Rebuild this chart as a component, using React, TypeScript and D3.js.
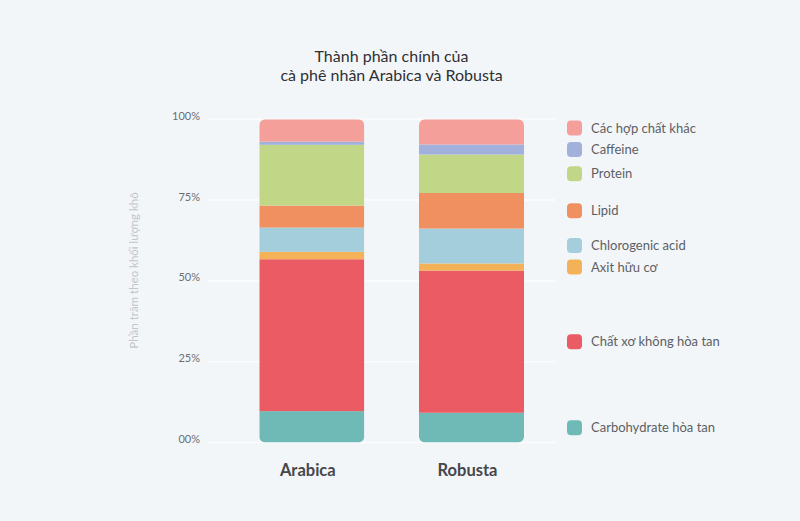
import React from "react";
import * as d3 from "d3";

const categories = ["Arabica", "Robusta"];
const components = [
  "Carbohydrate hòa tan",
  "Chất xơ không hòa tan",
  "Axit hữu cơ",
  "Chlorogenic acid",
  "Lipid",
  "Protein",
  "Caffeine",
  "Các hợp chất khác",
];
const arabicaValues = [9.7, 47.0, 2.3, 7.5, 6.8, 18.8, 1.0, 6.9];
const robustaValues = [9.2, 44.0, 2.2, 10.8, 11.0, 11.9, 3.1, 7.8];
const colors = ["#6fbab6", "#eb5b64", "#f3b257", "#a4cedb", "#f08f5f", "#c2d687", "#a1b1dc", "#f59f9b"];
const yTicks = [0, 25, 50, 75, 100];
const yTickLabels = ["00%", "25%", "50%", "75%", "100%"];
const titleLines = ["Thành phần chính của", "cà phê nhân Arabica và Robusta"];
const yAxisTitle = "Phần trăm theo khối lượng khô";

const W = 800;
const H = 521;
const FONT = "Lato, 'Open Sans', sans-serif";

export default function App() {
  const seriesValues = [arabicaValues, robustaValues];
  const rows = categories.map((c, i) => {
    const r: any = { cat: c };
    components.forEach((k, j) => (r[k] = seriesValues[i][j]));
    return r;
  });
  const stack = d3.stack<any>().keys(components);
  const stacked = stack(rows);

  const y = d3.scaleLinear().domain([0, 100]).range([442.5, 119.3]);
  const xs = d3.scaleOrdinal<string, number>().domain(categories).range([259.3, 419]);
  const bw = 105;

  // legend positions: Robusta segment midpoints, pushed apart
  const rob = stacked.map((s) => s[1]);
  const mids = rob.map((d) => y((d[0] + d[1]) / 2));
  const order = components.map((_, i) => components.length - 1 - i);
  const pos = order.map((i) => mids[i]);
  const gap = 21.5;
  for (let i = pos.length - 2; i >= 0; i--) {
    if (pos[i] > pos[i + 1] - gap) pos[i] = pos[i + 1] - gap;
  }

  const clipR = 6;

  return (
    <svg width={W} height={H} style={{ position: "absolute", left: 0, top: 0, background: "#f3f6f9" }}>
      <rect x={0} y={0} width={W} height={H} fill="#f3f6f9" />
      <defs>
        {categories.map((c, i) => (
          <clipPath id={`clip${i}`} key={c}>
            <rect x={xs(c)} y={y(100)} width={bw} height={y(0) - y(100)} rx={clipR} ry={clipR} />
          </clipPath>
        ))}
      </defs>
      {/* title */}
      <text x={391.5} y={61.5} textAnchor="middle" fontFamily={FONT} fontSize={16} fill="#2f3033">
        {titleLines[0]}
      </text>
      <text x={391.5} y={80.5} textAnchor="middle" fontFamily={FONT} fontSize={16} fill="#2f3033">
        {titleLines[1]}
      </text>
      {/* grid */}
      {yTicks.map((t, i) => (
        <g key={t}>
          <line x1={208} x2={555} y1={y(t)} y2={y(t)} stroke="#fbfcfe" strokeWidth={1.5} />
          <text x={200} y={y(t) + 0.5} textAnchor="end" fontFamily={FONT} fontSize={11} fill="#6b6e73">
            {yTickLabels[i]}
          </text>
        </g>
      ))}
      <text
        transform={`translate(137.5,270.5) rotate(-90)`}
        textAnchor="middle"
        fontFamily={FONT}
        fontSize={11.5}
        fill="#c2c5ca"
      >
        {yAxisTitle}
      </text>
      {/* bars */}
      {categories.map((c, ci) => (
        <g key={c} clipPath={`url(#clip${ci})`}>
          {stacked.map((s, si) => (
            <rect
              key={s.key}
              x={xs(c)}
              y={y(s[ci][1])}
              width={bw}
              height={y(s[ci][0]) - y(s[ci][1])}
              fill={colors[si]}
            />
          ))}
        </g>
      ))}
      {categories.map((c) => (
        <text
          key={c}
          x={(xs(c) as number) + bw / 2 - 4}
          y={476}
          textAnchor="middle"
          fontFamily={FONT}
          fontWeight={700}
          fontSize={16.5}
          fill="#45474b"
        >
          {c}
        </text>
      ))}
      {/* legend */}
      {order.map((ci, k) => (
        <g key={components[ci]} transform={`translate(567,${pos[k]})`}>
          <rect x={0} y={-7.5} width={15} height={15} rx={4} fill={colors[ci]} />
          <text x={24} y={4.5} fontFamily={FONT} fontSize={13} fill="#5c5f64">
            {components[ci]}
          </text>
        </g>
      ))}
    </svg>
  );
}
